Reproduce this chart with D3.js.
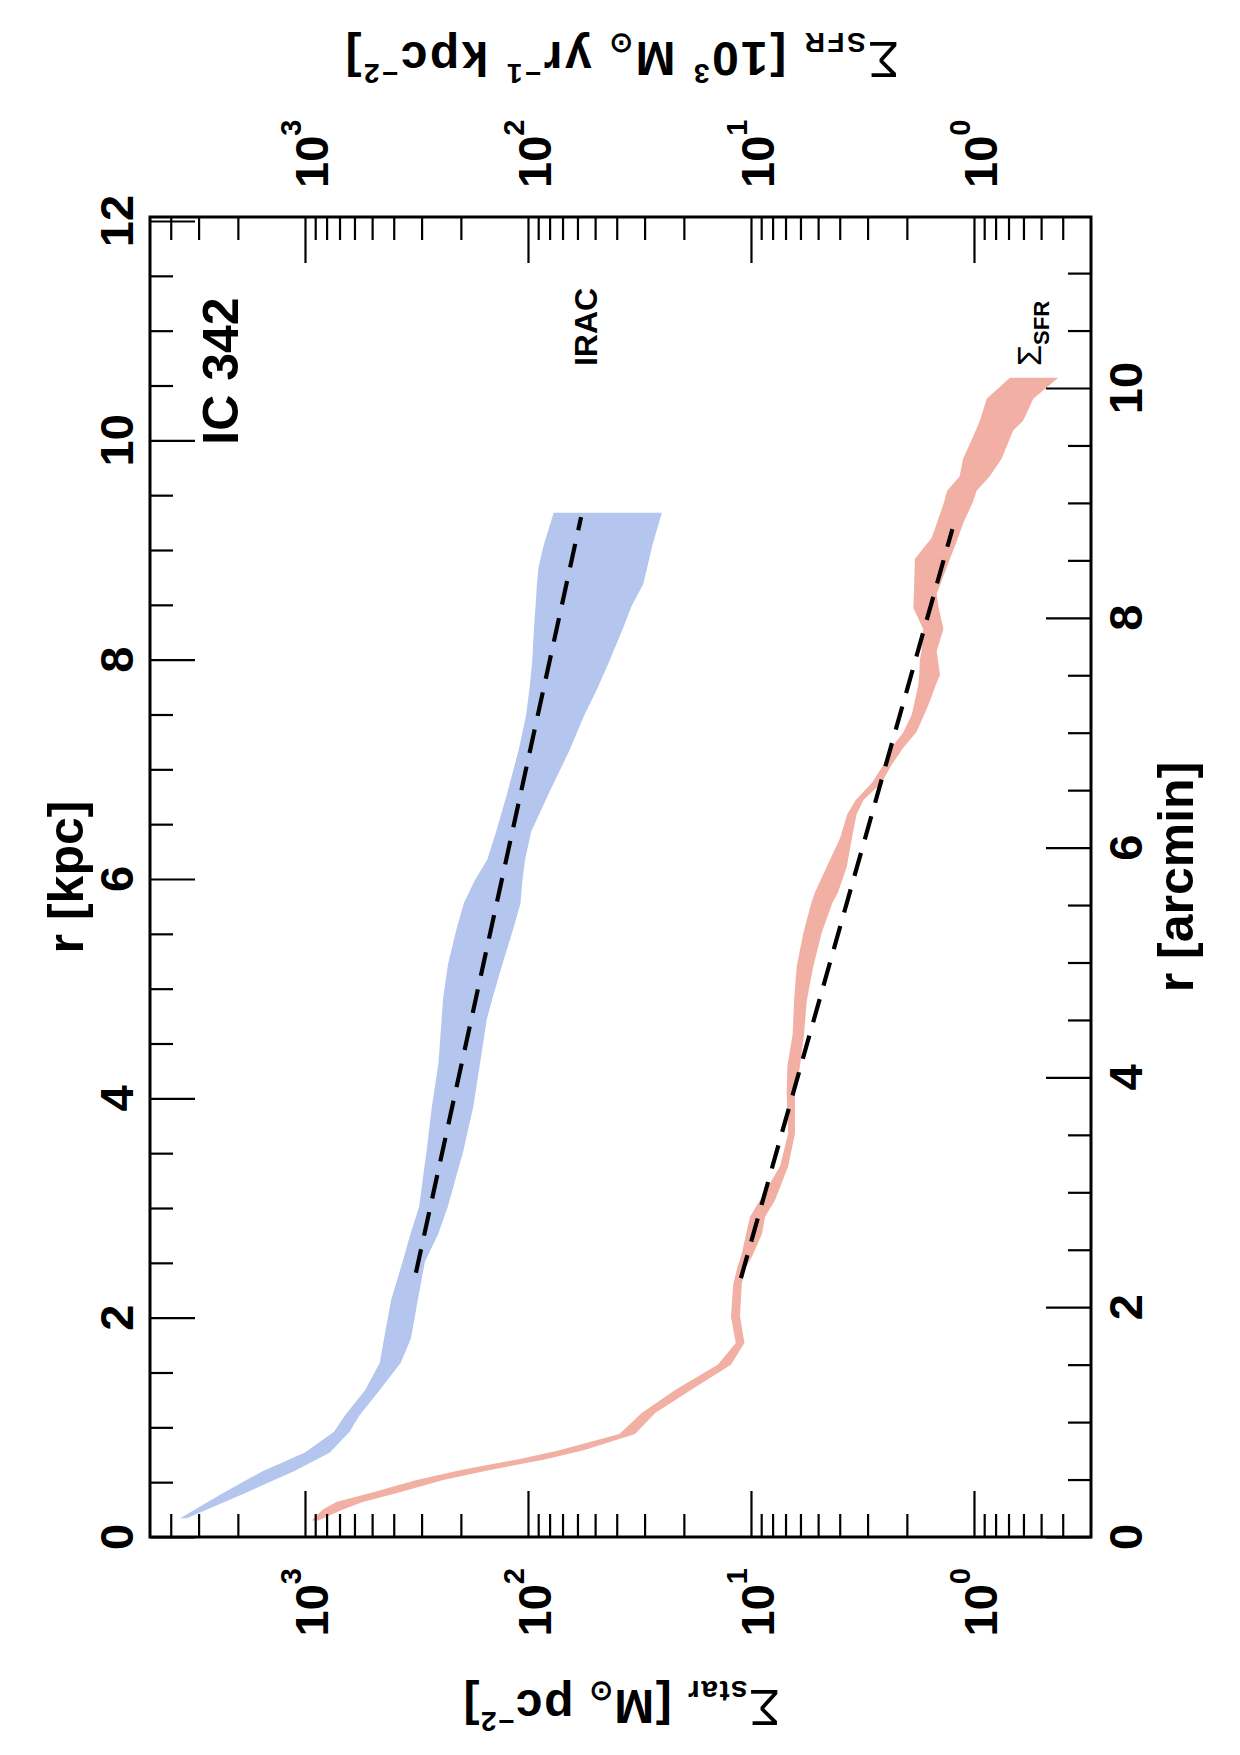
<!DOCTYPE html>
<html><head><meta charset="utf-8">
<script src="https://cdn.jsdelivr.net/npm/d3@7"></script>
<style>html,body{margin:0;padding:0;background:#fff}</style>
</head><body><svg id="c" width="1240" height="1755"></svg>
<script>
// ---- data (radius in kpc, surface densities) ----
const starR  = [0.17,0.40,0.60,0.77,0.96,1.11,1.34,1.59,1.81,2.16,2.51,2.76,3.01,3.52,3.92,4.32,4.72,4.92,5.23,5.53,5.78,5.98,6.18,6.43,6.78,7.18,7.49,7.74,7.99,8.29,8.49,8.69,8.84,9.04,9.34];
const starLo = [3390,1860,1120,773,631,569,462,372,335,312,290,253,229,195,176,164,153,144,130,117,108,106,103,96.8,80.7,64.9,56.0,48.8,43.1,37.4,34.3,30.4,29.2,27.7,25.1];
const starHi = [3630,2340,1550,1000,741,661,537,462,442,411,365,337,308,285,270,252,244,240,228,210,194,174,152,139,124,110,102,98.4,95.7,94.0,92.5,91.2,89.7,85.1,76.7];

const sfrR  = [0.15,0.25,0.32,0.41,0.52,0.61,0.71,0.79,0.94,1.13,1.34,1.57,1.77,2.01,2.31,2.46,2.58,2.77,2.92,3.07,3.38,3.68,4.05,4.29,4.59,4.89,5.20,5.51,5.78,5.88,6.11,6.37,6.59,6.72,6.88,7.03,7.20,7.34,7.50,7.63,7.76,7.86,7.99,8.08,8.28,8.47,8.60,8.92,9.11,9.24,9.44,9.54,9.67,9.83,10.09,10.18,10.38,10.57];
const sfrLo = [871,676,550,372,240,148,83.2,56.2,33.1,26.9,18.6,12.3,10.7,11.2,11.0,10.5,9.77,8.91,8.65,7.80,6.81,6.35,6.35,6.03,5.78,5.62,5.26,4.82,4.32,4.07,3.72,3.53,3.36,3.13,2.59,2.36,2.07,1.81,1.67,1.57,1.49,1.42,1.45,1.47,1.37,1.44,1.47,1.28,1.18,1.12,1.01,0.973,0.851,0.753,0.667,0.601,0.542,0.419];
const sfrHi = [933,832,724,490,316,200,110,72.4,38.9,30.9,21.9,14.1,11.7,12.3,12.0,11.5,11.0,10.5,10.1,9.12,7.41,6.81,6.92,6.87,6.50,6.41,6.24,5.82,5.37,5.16,4.58,3.99,3.70,3.39,2.86,2.57,2.34,2.07,1.90,1.84,1.78,1.76,1.75,1.72,1.69,1.87,1.86,1.84,1.55,1.47,1.36,1.32,1.16,1.12,0.982,0.940,0.877,0.690];

const starFitR = [2.41, 9.30];
const starFitV = [318, 57.8];
const sfrFitR  = [2.36, 9.19];
const sfrFitV  = [11.1, 1.25];

// ---- ticks ----
const sigmaMajor = [1000, 100, 10, 1];
const sigmaExp   = ["3", "2", "1", "0"];
const sigmaMinor = [4000,3000,2000,900,800,700,600,500,400,300,200,90,80,70,60,50,40,30,20,9,8,7,6,5,4,3,2,0.9,0.8,0.7,0.6,0.5,0.4];
const kpcMajor = [0,2,4,6,8,10,12];
const kpcMinor = [0.5,1,1.5,2.5,3,3.5,4.5,5,5.5,6.5,7,7.5,8.5,9,9.5,10.5,11,11.5];
const arcMajor = [0,2,4,6,8,10];
const arcMinor = [0.5,1,1.5,2.5,3,3.5,4.5,5,5.5,6.5,7,7.5,8.5,9,9.5,10.5,11];

// ---- layout ----
const L = 150, R = 1091, T = 217, B = 1537;
const FONT = "'Liberation Sans', Arial, Helvetica, sans-serif";
const svg = d3.select("#c");
svg.append("rect").attr("width",1240).attr("height",1755).attr("fill","#fff");

const xStar = d3.scaleLog().domain([4955, 0.2987]).range([L, R]);
const xSfr  = d3.scaleLog().domain([4955, 0.2987]).range([L, R]);
const yKpc  = d3.scaleLinear().domain([0, 12]).range([B, 221]);
const yArc  = d3.scaleLinear().domain([0, 10]).range([B, 388]);

// ---- bands ----
const starData = starR.map((r,i)=>({r, lo:starLo[i], hi:starHi[i]}));
const sfrData  = sfrR.map((r,i)=>({r, lo:sfrLo[i], hi:sfrHi[i]}));

svg.append("path").datum(starData)
  .attr("fill","#b4c6ee")
  .attr("d", d3.area().y(d=>yKpc(d.r)).x0(d=>xStar(d.lo)).x1(d=>xStar(d.hi)));
svg.append("path").datum(sfrData)
  .attr("fill","#f2b0a4")
  .attr("d", d3.area().y(d=>yKpc(d.r)).x0(d=>xSfr(d.lo)).x1(d=>xSfr(d.hi)));

// ---- fits ----
const fitLine = d3.line().x(d=>d[0]).y(d=>d[1]);
svg.append("path")
  .attr("d", fitLine(starFitR.map((r,i)=>[xStar(starFitV[i]), yKpc(r)])))
  .attr("stroke","#000").attr("stroke-width",4.2).attr("fill","none")
  .attr("stroke-dasharray","24,14");
svg.append("path")
  .attr("d", fitLine(sfrFitR.map((r,i)=>[xSfr(sfrFitV[i]), yKpc(r)])))
  .attr("stroke","#000").attr("stroke-width",4.2).attr("fill","none")
  .attr("stroke-dasharray","24,14");

// ---- axes ----
function styleAxis(g){
  g.select(".domain").remove();
  g.selectAll(".tick line").attr("stroke","#000").attr("stroke-width",2.2);
  g.selectAll(".tick text").remove();
}
svg.append("g").attr("transform",`translate(0,${B})`)
  .call(d3.axisBottom(xStar).tickValues(sigmaMajor).tickSize(-46).tickFormat("")).call(styleAxis);
svg.append("g").attr("transform",`translate(0,${B})`)
  .call(d3.axisBottom(xStar).tickValues(sigmaMinor).tickSize(-23).tickFormat("")).call(styleAxis);
svg.append("g").attr("transform",`translate(0,${T})`)
  .call(d3.axisTop(xSfr).tickValues(sigmaMajor).tickSize(-46).tickFormat("")).call(styleAxis);
svg.append("g").attr("transform",`translate(0,${T})`)
  .call(d3.axisTop(xSfr).tickValues(sigmaMinor).tickSize(-23).tickFormat("")).call(styleAxis);
svg.append("g").attr("transform",`translate(${L},0)`)
  .call(d3.axisLeft(yKpc).tickValues(kpcMajor).tickSize(-45).tickFormat("")).call(styleAxis);
svg.append("g").attr("transform",`translate(${L},0)`)
  .call(d3.axisLeft(yKpc).tickValues(kpcMinor).tickSize(-23).tickFormat("")).call(styleAxis);
svg.append("g").attr("transform",`translate(${R},0)`)
  .call(d3.axisRight(yArc).tickValues(arcMajor).tickSize(-45).tickFormat("")).call(styleAxis);
svg.append("g").attr("transform",`translate(${R},0)`)
  .call(d3.axisRight(yArc).tickValues(arcMinor).tickSize(-23).tickFormat("")).call(styleAxis);

svg.append("rect").attr("x",L).attr("y",T).attr("width",R-L).attr("height",B-T)
  .attr("fill","none").attr("stroke","#000").attr("stroke-width",3);

// ---- text helper ----
function rText(x, y, angle, anchor, parts, extra){
  const t = svg.append("text")
    .attr("transform",`translate(${x},${y}) rotate(${angle})`)
    .attr("text-anchor",anchor)
    .attr("font-family",FONT).attr("fill","#000");
  if (extra) extra(t);
  parts.forEach(p=>{
    const s = t.append("tspan").text(p.t)
      .attr("font-size",p.size).attr("font-weight",p.w||"bold");
    if (p.dy) s.attr("dy",p.dy);
  });
  return t;
}

// sigma tick labels (bottom: star, top: SFR)
sigmaMajor.forEach((v,i)=>{
  rText(xStar(v)+23, 1568, -90, "end",
    [{t:"10",size:47},{t:sigmaExp[i],size:29,dy:-27}]);
  rText(xSfr(v)+23, 188, -90, "start",
    [{t:"10",size:47},{t:sigmaExp[i],size:29,dy:-27}]);
});
// kpc labels
kpcMajor.forEach(v=>{
  rText(133, yKpc(v), -90, "middle", [{t:String(v),size:47}]);
});
// arcmin labels
arcMajor.forEach(v=>{
  rText(1142, yArc(v), -90, "middle", [{t:String(v),size:47}]);
});

// axis titles
rText(83, (T+B)/2, -90, "middle", [{t:"r [kpc]",size:50}]);
rText(1193, (T+B)/2, -90, "middle", [{t:"r [arcmin]",size:50}]);

rText(621, 1690, 180, "middle", [
  {t:"Σ",size:50,w:"normal"},
  {t:"star",size:30,dy:9},
  {t:" [M",size:48,dy:-9},
  {t:"⊙",size:28,dy:8},
  {t:" pc",size:48,dy:-8},
  {t:"−2",size:28,dy:-22},
  {t:"]",size:48,dy:22}
], t=>t.attr("letter-spacing",1.5));

rText(621, 42, 180, "middle", [
  {t:"Σ",size:50,w:"normal"},
  {t:"SFR",size:28,dy:9},
  {t:" [10",size:48,dy:-9},
  {t:"3",size:28,dy:-22},
  {t:" M",size:48,dy:22},
  {t:"⊙",size:28,dy:8},
  {t:" yr",size:48,dy:-8},
  {t:"−1",size:28,dy:-22},
  {t:" kpc",size:48,dy:22},
  {t:"−2",size:28,dy:-22},
  {t:"]",size:48,dy:22}
], t=>t.attr("letter-spacing",2.5));

// annotations
rText(238, 371, -90, "middle", [{t:"IC 342",size:50}]);
rText(597, 327, -90, "middle", [{t:"IRAC",size:32}]);
rText(1041, 366, -90, "start", [
  {t:"Σ",size:34,w:"normal"},
  {t:"SFR",size:22,dy:8}
]);
</script></body></html>
